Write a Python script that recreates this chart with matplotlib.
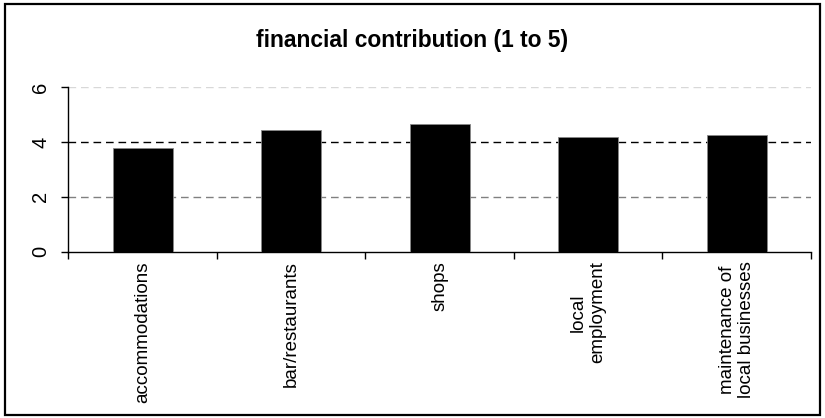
import matplotlib
matplotlib.use("Agg")
import matplotlib.pyplot as plt
from matplotlib.patches import Rectangle

categories = ["accommodations", "bar/restaurants", "shops", "local\nemployment",
              "maintenance of\nlocal businesses"]
values = [3.77, 4.44, 4.65, 4.20, 4.27]
yticks = [0, 2, 4, 6]
title = "financial contribution (1 to 5)"

plt.rcParams['font.family'] = ['Liberation Sans', 'DejaVu Sans']

fig = plt.figure(figsize=(8.25, 4.18), dpi=100)
fig.patches.append(Rectangle((0.006, 0.008), 0.988, 0.982, transform=fig.transFigure,
                             fill=False, edgecolor='black', linewidth=1.6))

ax = fig.add_axes([0.083, 0.398, 0.9, 0.393])
x = list(range(len(categories)))
ax.bar(x, values, width=0.405, color='black', edgecolor='#888888', linewidth=0.6, zorder=3)

grid_colors = {2: '#808080', 4: '#000000', 6: '#d8d8d8'}
for yv, c in grid_colors.items():
    ax.axhline(yv, color=c, linewidth=1.0, dashes=(5.5, 3.5), zorder=1)

ax.set_xlim(-0.5, len(categories) - 0.5)
ax.set_ylim(0, 6)
ax.set_yticks(yticks)
ax.set_yticklabels([str(v) for v in yticks], rotation=90, va='center', fontsize=14.5)

ax.set_xticks([i - 0.5 for i in range(len(categories) + 1)])
ax.set_xticklabels([])
ax.set_xticks(x, minor=True)
ax.set_xticklabels(categories, minor=True, rotation=90, ha='center', va='top',
                   multialignment='center', fontsize=13.5, linespacing=1.15)
ax.tick_params(axis='x', which='minor', length=0, pad=7)
ax.tick_params(axis='x', which='major', length=5, width=1, direction='out', color='black')
ax.tick_params(axis='y', length=5, width=1, direction='out', pad=8)

for s in ['top', 'right']:
    ax.spines[s].set_visible(False)
for s in ['left', 'bottom']:
    ax.spines[s].set_linewidth(1.0)

fig.text(0.5, 0.902, title, ha='center', va='center', fontsize=16.4, fontweight='bold')

fig.savefig("out.png", dpi=100)
